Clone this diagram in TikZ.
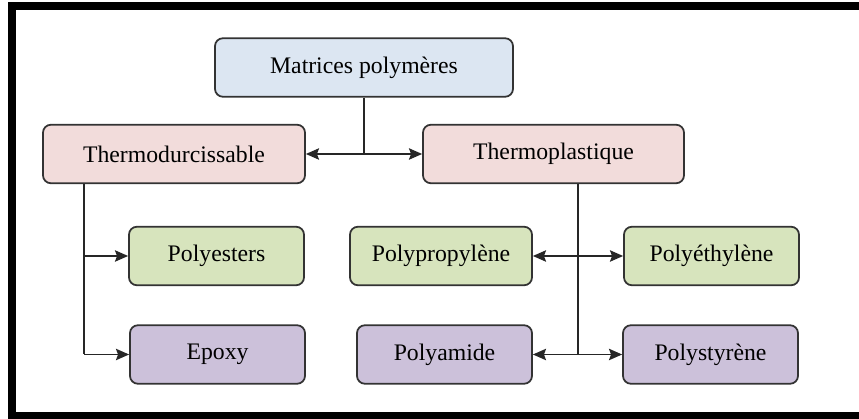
\documentclass[tikz,border=0pt]{standalone}
\usepackage{fontspec}
\setmainfont{Liberation Serif}
\usepackage{xcolor}
\usepackage{tikz}
\usetikzlibrary{positioning}
\usetikzlibrary{calc}
\usetikzlibrary{arrows, arrows.meta}

\definecolor{boxblue}{HTML}{DCE6F2}
\definecolor{boxpink}{HTML}{F2DCDB}
\definecolor{boxgreen}{HTML}{D7E4BD}
\definecolor{boxpurple}{HTML}{CCC1DA}
\definecolor{boxedge}{HTML}{333333}

\begin{document}
\begin{tikzpicture}[
    box/.style={draw=boxedge, line width=1pt, rounded corners=4.5pt,
      minimum height=1.17cm, minimum width=3.5cm, inner sep=0pt,
      font=\fontsize{13.5}{16}\selectfont},
    link/.style={line width=0.85pt, draw=black!85},
    >={Stealth[length=7.5pt, width=6.5pt, inset=1.2pt]}
  ]
  \useasboundingbox (0,0) rectangle (17.18,8.38);

  % frame (cut off on the right)
  \fill (0.16,8.18) rectangle (17.18,8.34);
  \fill (0.16,0) rectangle (0.32,8.34);
  \fill (0.16,0) rectangle (17.18,0.14);

  \node[box, fill=boxblue, minimum width=5.96cm] (mat) at (7.28,7.03) {Matrices polymères};
  \node[box, fill=boxpink, minimum width=5.24cm] (tdur) at (3.48,5.30) {Thermodurcissable};
  \node[box, fill=boxpink, minimum width=5.22cm] (tpla) at (11.07,5.30) {Thermoplastique};

  \node[box, fill=boxgreen] (pest) at (4.33,3.26) {Polyesters};
  \node[box, fill=boxpurple] (epox) at (4.35,1.29) {Epoxy};
  \node[box, fill=boxgreen, minimum width=3.64cm] (ppro) at (8.82,3.26) {Polypropylène};
  \node[box, fill=boxpurple] (pami) at (8.89,1.29) {Polyamide};
  \node[box, fill=boxgreen] (peth) at (14.23,3.26) {Polyéthylène};
  \node[box, fill=boxpurple] (psty) at (14.21,1.29) {Polystyrène};

  \coordinate (ltrunk) at (1.68,4.72);  % left branch
  \coordinate (rtrunk) at (11.56,4.72); % right branch

  \draw[link] (mat.south) -- (mat.south |- tdur.east);
  \draw[link, <->] (tdur.east) -- (tpla.west);

  \draw[link] (ltrunk |- tdur.south) -- (ltrunk |- epox.west);
  \draw[link, ->] (ltrunk |- pest.west) -- (pest.west);
  \draw[link, ->] (ltrunk |- epox.west) -- (epox.west);

  \draw[link] (rtrunk |- tpla.south) -- (rtrunk |- pami.east);
  \draw[link, <->] (ppro.east) -- (peth.west);
  \draw[link, <->] (pami.east) -- (psty.west);
\end{tikzpicture}
\end{document}
